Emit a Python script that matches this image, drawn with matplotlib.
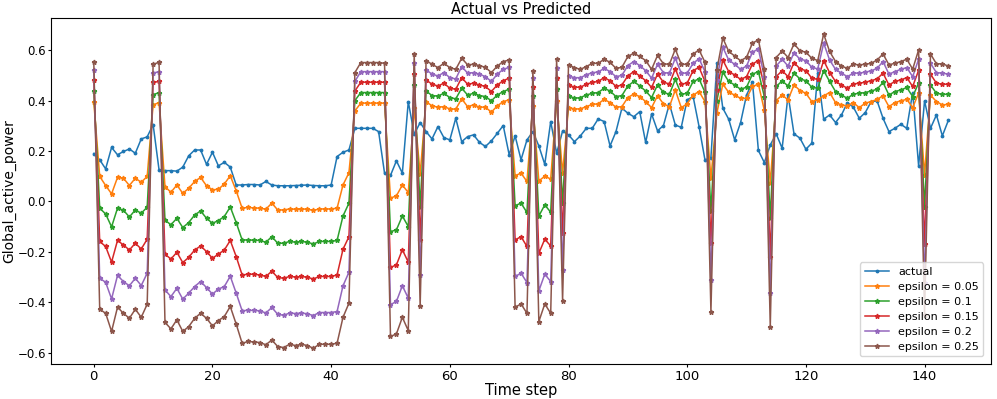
import matplotlib
matplotlib.use("Agg")
import matplotlib.pyplot as plt

# values, time steps 0..144
actual = [
    0.19, 0.165, 0.129, 0.214, 0.185, 0.198, 0.208, 0.191, 0.248, 0.256,
    0.305, 0.125, 0.122, 0.122, 0.12, 0.136, 0.181, 0.204, 0.204, 0.147,
    0.195, 0.141, 0.155, 0.136, 0.065, 0.065, 0.067, 0.067, 0.065, 0.079,
    0.065, 0.062, 0.062, 0.062, 0.063, 0.064, 0.065, 0.063, 0.062, 0.062,
    0.065, 0.178, 0.195, 0.204, 0.29, 0.29, 0.29, 0.29, 0.277, 0.112,
    0.103, 0.161, 0.112, 0.396, 0.266, 0.313, 0.277, 0.248, 0.297, 0.253,
    0.244, 0.33, 0.237, 0.257, 0.264, 0.234, 0.218, 0.24, 0.27, 0.301,
    0.185, 0.26, 0.165, 0.244, 0.277, 0.22, 0.147, 0.317, 0.191, 0.279,
    0.264, 0.237, 0.26, 0.29, 0.29, 0.327, 0.317, 0.22, 0.277, 0.37,
    0.35, 0.336, 0.356, 0.234, 0.347, 0.28, 0.301, 0.387, 0.303, 0.294,
    0.403, 0.416, 0.297, 0.164, 0.174, 0.548, 0.37, 0.326, 0.244, 0.313,
    0.422, 0.473, 0.202, 0.154, 0.224, 0.268, 0.211, 0.422, 0.268, 0.251,
    0.207, 0.231, 0.509, 0.326, 0.343, 0.313, 0.343, 0.392, 0.374, 0.33,
    0.352, 0.396, 0.399, 0.33, 0.277, 0.29, 0.306, 0.29, 0.432, 0.141,
    0.399, 0.29, 0.343, 0.26, 0.321,
]

eps_005 = [
    0.396, 0.099, 0.063, 0.03, 0.095, 0.092, 0.063, 0.092, 0.076, 0.099,
    0.383, 0.392, 0.059, 0.036, 0.065, 0.032, 0.052, 0.079, 0.095, 0.062,
    0.046, 0.048, 0.069, 0.102, 0.042, -0.027, -0.024, -0.026, -0.027, -0.031,
    -0.007, -0.034, -0.034, -0.03, -0.031, -0.03, -0.031, -0.036, -0.03, -0.03,
    -0.03, -0.027, 0.065, 0.114, 0.359, 0.39, 0.39, 0.39, 0.39, 0.39,
    0.013, 0.022, 0.065, 0.035, 0.37, 0.108, 0.396, 0.379, 0.374, 0.376,
    0.367, 0.366, 0.407, 0.376, 0.383, 0.374, 0.374, 0.354, 0.379, 0.396,
    0.403, 0.102, 0.112, 0.079, 0.38, 0.081, 0.1, 0.089, 0.40, 0.112,
    0.372, 0.367, 0.367, 0.376, 0.385, 0.387, 0.405, 0.392, 0.374, 0.376,
    0.412, 0.426, 0.416, 0.396, 0.372, 0.419, 0.387, 0.376, 0.442, 0.372,
    0.387, 0.422, 0.436, 0.396, 0.092, 0.35, 0.465, 0.433, 0.422, 0.409,
    0.409, 0.456, 0.465, 0.362, 0.072, 0.40, 0.422, 0.403, 0.462, 0.44,
    0.429, 0.396, 0.403, 0.419, 0.432, 0.392, 0.383, 0.379, 0.392, 0.372,
    0.39, 0.396, 0.405, 0.419, 0.376, 0.392, 0.399, 0.405, 0.372, 0.43,
    0.106, 0.422, 0.396, 0.383, 0.385,
]

eps_010 = [
    0.438, -0.027, -0.05, -0.101, -0.027, -0.035, -0.062, -0.034, -0.047, -0.023,
    0.423, 0.432, -0.074, -0.093, -0.067, -0.104, -0.084, -0.054, -0.038, -0.067,
    -0.087, -0.076, -0.06, -0.022, -0.084, -0.153, -0.153, -0.154, -0.155, -0.162,
    -0.14, -0.166, -0.166, -0.159, -0.162, -0.159, -0.162, -0.169, -0.159, -0.159,
    -0.159, -0.155, -0.058, -0.007, 0.40, 0.432, 0.432, 0.432, 0.432, 0.432,
    -0.12, -0.113, -0.058, -0.1, 0.462, -0.021, 0.438, 0.42, 0.418, 0.429,
    0.412, 0.407, 0.449, 0.422, 0.429, 0.42, 0.416, 0.399, 0.422, 0.436,
    0.445, -0.017, -0.007, -0.044, 0.418, -0.058, -0.014, -0.043, 0.445, -0.007,
    0.42, 0.409, 0.412, 0.422, 0.429, 0.432, 0.449, 0.438, 0.416, 0.42,
    0.458, 0.476, 0.458, 0.438, 0.412, 0.462, 0.433, 0.425, 0.484, 0.425,
    0.429, 0.476, 0.486, 0.433, -0.04, 0.40, 0.513, 0.476, 0.462, 0.445,
    0.453, 0.505, 0.515, 0.416, -0.067, 0.456, 0.478, 0.458, 0.509, 0.486,
    0.479, 0.453, 0.449, 0.519, 0.476, 0.436, 0.422, 0.409, 0.426, 0.429,
    0.432, 0.438, 0.445, 0.472, 0.422, 0.436, 0.442, 0.452, 0.416, 0.47,
    -0.021, 0.462, 0.429, 0.425, 0.425,
]

eps_015 = [
    0.48, -0.159, -0.179, -0.241, -0.155, -0.173, -0.193, -0.166, -0.189, -0.15,
    0.472, 0.476, -0.209, -0.229, -0.202, -0.243, -0.222, -0.193, -0.177, -0.199,
    -0.226, -0.209, -0.193, -0.155, -0.219, -0.292, -0.289, -0.289, -0.292, -0.298,
    -0.277, -0.302, -0.305, -0.298, -0.30, -0.298, -0.301, -0.308, -0.298, -0.298,
    -0.298, -0.292, -0.19, -0.14, 0.438, 0.473, 0.473, 0.473, 0.473, 0.473,
    -0.262, -0.252, -0.192, -0.241, 0.505, -0.153, 0.482, 0.465, 0.458, 0.469,
    0.449, 0.445, 0.491, 0.465, 0.469, 0.462, 0.456, 0.436, 0.462, 0.479,
    0.489, -0.153, -0.14, -0.179, 0.453, -0.206, -0.15, -0.177, 0.49, -0.126,
    0.462, 0.453, 0.453, 0.465, 0.472, 0.476, 0.491, 0.479, 0.456, 0.462,
    0.498, 0.515, 0.498, 0.479, 0.452, 0.505, 0.473, 0.466, 0.526, 0.466,
    0.469, 0.519, 0.532, 0.476, -0.166, 0.442, 0.561, 0.515, 0.502, 0.484,
    0.495, 0.545, 0.559, 0.456, -0.219, 0.495, 0.519, 0.495, 0.551, 0.526,
    0.519, 0.489, 0.484, 0.559, 0.511, 0.476, 0.462, 0.449, 0.466, 0.469,
    0.473, 0.479, 0.486, 0.509, 0.462, 0.476, 0.482, 0.491, 0.456, 0.52,
    -0.17, 0.505, 0.469, 0.465, 0.465,
]

eps_020 = [
    0.522, -0.305, -0.321, -0.387, -0.294, -0.318, -0.335, -0.305, -0.334, -0.285,
    0.509, 0.515, -0.351, -0.378, -0.345, -0.388, -0.364, -0.338, -0.318, -0.342,
    -0.368, -0.348, -0.338, -0.297, -0.364, -0.434, -0.432, -0.433, -0.434, -0.443,
    -0.421, -0.448, -0.452, -0.443, -0.445, -0.443, -0.446, -0.453, -0.441, -0.441,
    -0.441, -0.437, -0.335, -0.281, 0.476, 0.515, 0.515, 0.515, 0.515, 0.515,
    -0.41, -0.397, -0.335, -0.384, 0.548, -0.291, 0.522, 0.505, 0.498, 0.511,
    0.491, 0.486, 0.535, 0.509, 0.511, 0.505, 0.495, 0.476, 0.505, 0.524,
    0.532, -0.298, -0.285, -0.322, 0.488, -0.355, -0.289, -0.318, 0.53, -0.272,
    0.498, 0.491, 0.491, 0.502, 0.511, 0.513, 0.528, 0.515, 0.495, 0.50,
    0.539, 0.555, 0.539, 0.519, 0.489, 0.544, 0.511, 0.509, 0.568, 0.509,
    0.509, 0.548, 0.566, 0.515, -0.312, 0.482, 0.612, 0.561, 0.544, 0.524,
    0.537, 0.592, 0.605, 0.495, -0.364, 0.537, 0.564, 0.537, 0.59, 0.564,
    0.559, 0.532, 0.526, 0.628, 0.561, 0.524, 0.509, 0.495, 0.509, 0.509,
    0.513, 0.518, 0.528, 0.555, 0.505, 0.515, 0.524, 0.531, 0.495, 0.564,
    -0.325, 0.548, 0.511, 0.509, 0.505,
]

eps_025 = [
    0.555, -0.428, -0.444, -0.516, -0.42, -0.444, -0.464, -0.428, -0.46, -0.408,
    0.544, 0.552, -0.48, -0.506, -0.47, -0.516, -0.497, -0.464, -0.444, -0.464,
    -0.494, -0.473, -0.457, -0.417, -0.487, -0.563, -0.556, -0.558, -0.56, -0.569,
    -0.55, -0.576, -0.58, -0.567, -0.572, -0.567, -0.572, -0.583, -0.567, -0.567,
    -0.567, -0.563, -0.46, -0.404, 0.511, 0.551, 0.551, 0.551, 0.551, 0.548,
    -0.536, -0.526, -0.46, -0.513, 0.585, -0.415, 0.559, 0.544, 0.531, 0.548,
    0.531, 0.524, 0.568, 0.542, 0.544, 0.539, 0.532, 0.511, 0.537, 0.555,
    0.561, -0.42, -0.407, -0.444, 0.519, -0.477, -0.407, -0.444, 0.564, -0.394,
    0.542, 0.531, 0.524, 0.535, 0.548, 0.548, 0.564, 0.552, 0.528, 0.532,
    0.575, 0.588, 0.575, 0.559, 0.524, 0.579, 0.546, 0.544, 0.604, 0.544,
    0.544, 0.585, 0.601, 0.552, -0.437, 0.522, 0.648, 0.595, 0.577, 0.558,
    0.572, 0.628, 0.641, 0.524, -0.497, 0.571, 0.597, 0.571, 0.625, 0.598,
    0.592, 0.568, 0.559, 0.664, 0.595, 0.555, 0.537, 0.528, 0.544, 0.542,
    0.544, 0.548, 0.561, 0.585, 0.542, 0.548, 0.555, 0.564, 0.525, 0.601,
    -0.45, 0.585, 0.546, 0.546, 0.537,
]

predictions = [eps_005, eps_010, eps_015, eps_020, eps_025]
eps_labels = ["epsilon = 0.05", "epsilon = 0.1", "epsilon = 0.15",
              "epsilon = 0.2", "epsilon = 0.25"]

steps = list(range(len(actual)))

fig = plt.figure(figsize=(9.97, 3.99), dpi=100)
ax = fig.add_axes([0.0512, 0.0877, 0.9428, 0.8663])

ax.plot(steps, actual, marker=".", markersize=3.5, linewidth=1.1, label="actual")
for values, name in zip(predictions, eps_labels):
    ax.plot(steps, values, marker="*", markersize=3.5, linewidth=1.1, label=name)

ax.set_title("Actual vs Predicted", fontsize=10.5, pad=3)
ax.set_xlabel("Time step", fontsize=10.5, labelpad=0)
ax.set_ylabel("Global_active_power", fontsize=10)
ax.yaxis.set_label_coords(-0.0365, 0.5)
ax.tick_params(axis="x", labelsize=9.5, length=2.5, pad=2)
ax.tick_params(axis="y", labelsize=8.5, length=2, pad=1.5)
ax.legend(loc="lower right", fontsize=8, labelspacing=0.45,
          borderaxespad=0.7, handlelength=2.2)

fig.savefig("out.png", dpi=100)
